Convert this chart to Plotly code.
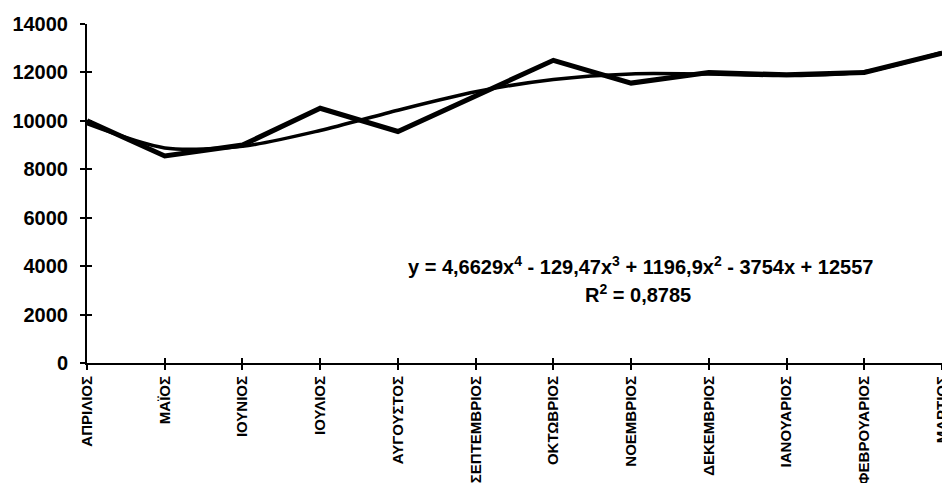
import plotly.graph_objects as go

months = ["ΑΠΡΙΛΙΟΣ", "ΜΑΪΟΣ", "ΙΟΥΝΙΟΣ", "ΙΟΥΛΙΟΣ", "ΑΥΓΟΥΣΤΟΣ", "ΣΕΠΤΕΜΒΡΙΟΣ",
          "ΟΚΤΩΒΡΙΟΣ", "ΝΟΕΜΒΡΙΟΣ", "ΔΕΚΕΜΒΡΙΟΣ", "ΙΑΝΟΥΑΡΙΟΣ", "ΦΕΒΡΟΥΑΡΙΟΣ", "ΜΑΡΤΙΟΣ"]
month_pos = [1, 2, 3, 4, 5, 6, 7, 8, 9, 10, 11, 12]
sales = [10000, 8550, 9000, 10520, 9560, 11050, 12500, 11560, 12000, 11900, 12000, 12800]
trend = [9880, 8880, 8950, 9600, 10440, 11200, 11710, 11940, 11930, 11870, 12030, 12830]
y_ticks = [0, 2000, 4000, 6000, 8000, 10000, 12000, 14000]
y_tick_text = ["0", "2000", "4000", "6000", "8000", "10000", "12000", "14000"]
equation = "y = 4,6629x<sup>4</sup> - 129,47x<sup>3</sup> + 1196,9x<sup>2</sup> - 3754x + 12557"
r_squared = "R<sup>2</sup> = 0,8785"

FONT = "Liberation Sans"

# page body has an 8px margin; size figure so the plot lands where the reference has it
BODY = 8
W, H = 950 - BODY, 483 - BODY
# target plot area in window pixels: x 87..942, y 24..363
ml, mt = 87 - BODY, 24 - BODY
mr = (BODY + W) - 942
mb = (BODY + H) - 363
pw = W - ml - mr
ph = H - mt - mb


def paper_x(px):
    return (px - BODY - ml) / pw


def paper_y(py):
    return (BODY + H - mb - py) / ph


fig = go.Figure()
fig.add_trace(go.Scatter(x=month_pos, y=trend, mode="lines",
                         line=dict(color="black", width=3.5, shape="spline", smoothing=0.8),
                         hoverinfo="skip"))
fig.add_trace(go.Scatter(x=month_pos, y=sales, mode="lines",
                         line=dict(color="black", width=5)))
# invisible trace to hold the overlay axes (inner halves of the crossing ticks)
fig.add_trace(go.Scatter(x=[month_pos[0]], y=[y_ticks[0]], xaxis="x2", yaxis="y2",
                         mode="markers", marker=dict(opacity=0), hoverinfo="skip"))

fig.add_annotation(x=paper_x(640), y=paper_y(280), xref="paper", yref="paper", text=equation,
                   yanchor="bottom", showarrow=False,
                   font=dict(family=FONT, size=20, color="black", weight="bold"))
fig.add_annotation(x=paper_x(638), y=paper_y(279), xref="paper", yref="paper", text=r_squared,
                   yanchor="top", showarrow=False,
                   font=dict(family=FONT, size=20, color="black", weight="bold"))

fig.update_layout(
    width=W, height=H,
    margin=dict(l=ml, r=mr, t=mt, b=mb, pad=0, autoexpand=False),
    paper_bgcolor="white", plot_bgcolor="white",
    showlegend=False,
    xaxis=dict(range=[0.9995, 12.0005], tickvals=month_pos, ticktext=months, tickangle=-90,
               tickfont=dict(family=FONT, size=15, color="black", weight="bold"),
               showgrid=False, zeroline=False, showline=True, linecolor="black", linewidth=2,
               ticks="outside", ticklen=5, tickwidth=1.5, tickcolor="black", automargin=False),
    yaxis=dict(range=[0, 14000], tickvals=y_ticks, ticktext=y_tick_text,
               tickfont=dict(family=FONT, size=20, color="black", weight="bold"),
               showgrid=False, zeroline=False, showline=True, linecolor="black", linewidth=2,
               ticks="outside", ticklen=5, tickwidth=1.5, tickcolor="black", automargin=False,
               ticklabelstandoff=8),
    xaxis2=dict(range=[0.9995, 12.0005], tickvals=month_pos, overlaying="x", side="bottom",
                showticklabels=False, showgrid=False, zeroline=False, showline=False,
                ticks="inside", ticklen=5, tickwidth=1.5, tickcolor="black"),
    yaxis2=dict(range=[0, 14000], tickvals=y_ticks, overlaying="y", side="left",
                showticklabels=False, showgrid=False, zeroline=False, showline=False,
                ticks="inside", ticklen=5, tickwidth=1.5, tickcolor="black"),
)

fig.write_html("out.html")
